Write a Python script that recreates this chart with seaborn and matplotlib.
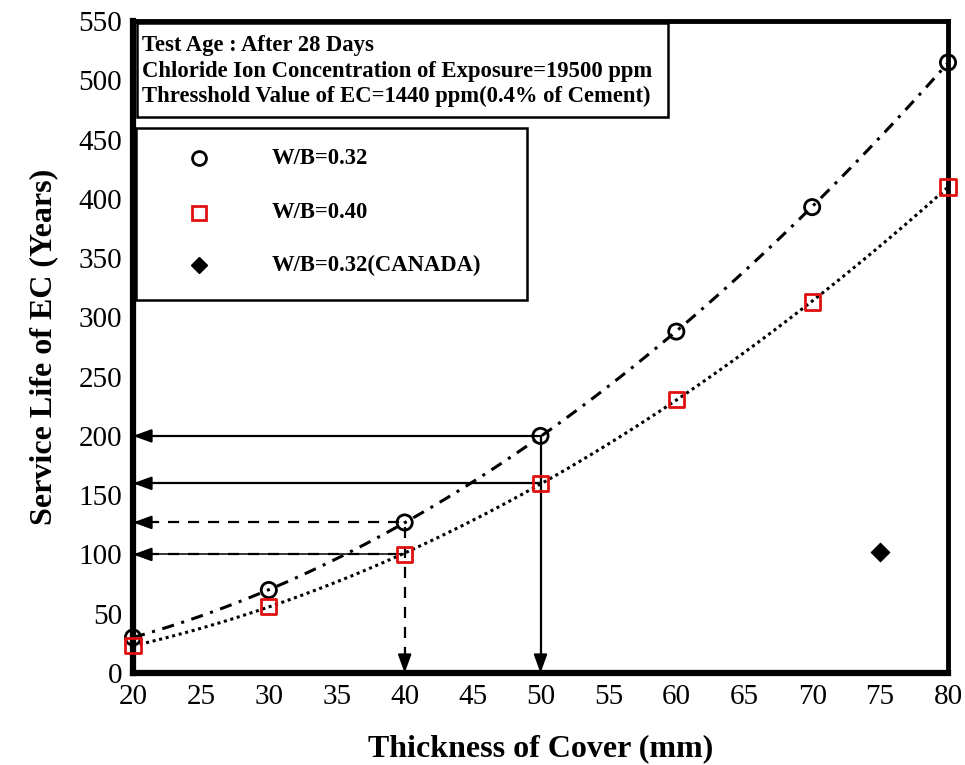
import numpy as np
import pandas as pd
import seaborn as sns
import matplotlib.pyplot as plt
from matplotlib.patches import Rectangle
from matplotlib.lines import Line2D

# Cover thickness (mm) and service life (years)
cover = [20, 30, 40, 50, 60, 70, 80]
life_032 = [30, 70, 127, 200, 288, 393, 515]
life_040 = [23, 56, 100, 160, 231, 313, 410]
canada_cover = [75]
canada_life = [102]

x_ticks = list(range(20, 85, 5))
y_ticks = list(range(0, 600, 50))

info_lines = [
    "Test Age : After 28 Days",
    "Chloride Ion Concentration of Exposure=19500 ppm",
    "Thresshold Value of EC=1440 ppm(0.4% of Cement)",
]
legend_labels = ["W/B=0.32", "W/B=0.40", "W/B=0.32(CANADA)"]

df = pd.DataFrame({"cover": cover, "w032": life_032, "w040": life_040})

sns.set_theme(style="white")
plt.rcParams["font.family"] = ["Liberation Serif", "DejaVu Serif"]
plt.rcParams["text.color"] = "black"
plt.rcParams["axes.labelcolor"] = "black"

fig = plt.figure(figsize=(9.65, 7.65), dpi=100)
ax = fig.add_axes([133 / 965, 1 - 673 / 765, (948 - 133) / 965, (673 - 21) / 765])

# Fitted trend curves
sns.regplot(data=df, x="cover", y="w032", order=2, ci=None, scatter=False, ax=ax,
            truncate=True,
            line_kws=dict(color="black", lw=2.2, linestyle=(0, (4, 2.5, 1, 2.5))))
sns.regplot(data=df, x="cover", y="w040", order=2, ci=None, scatter=False, ax=ax,
            truncate=True,
            line_kws=dict(color="black", lw=2.2, linestyle=(0, (1, 1.2))))

# Reading guides: a line plus a solid arrowhead at the axis end
head_kw = dict(arrowstyle="-|>,head_length=0.55,head_width=0.2", mutation_scale=20,
               color="black", lw=1.6, shrinkA=0, shrinkB=0)
HX = 1.1    # arrowhead length in x data units
HY = 12.5   # arrowhead length in y data units


def guide_h(x0, y, style):
    ax.plot([20 + HX, x0], [y, y], color="black", lw=1.6, linestyle=style)
    ax.annotate("", xy=(20, y), xytext=(20 + HX, y), arrowprops=head_kw)


def guide_v(x, y0, style):
    ax.plot([x, x], [HY, y0], color="black", lw=1.6, linestyle=style)
    ax.annotate("", xy=(x, 0), xytext=(x, HY), arrowprops=head_kw)


guide_h(cover[3], life_032[3], "-")
guide_h(cover[3], life_040[3], "-")
guide_v(cover[3], life_032[3], "-")
ax.plot([20 + HX, cover[2]], [life_040[2], life_040[2]], color="black", lw=1.1)
guide_h(cover[2], life_032[2], (0, (5, 4)))
guide_h(cover[2], life_040[2], (0, (5, 4)))
guide_v(cover[2], life_032[2], (0, (5, 4)))

# Measured points
sns.scatterplot(x=cover, y=life_032, marker="o", s=120, facecolor="none",
                edgecolor="black", linewidth=2, ax=ax, zorder=5, clip_on=False)
sns.scatterplot(x=cover, y=life_040, marker="s", s=120, facecolor="none",
                edgecolor="#e01010", linewidth=2, ax=ax, zorder=5, clip_on=False)
sns.scatterplot(x=canada_cover, y=canada_life, marker="D", s=90, color="black",
                edgecolor="black", ax=ax, zorder=5)

ax.set_xlim(20, 80)
ax.set_ylim(0, 550)
ax.set_xticks(x_ticks)
ax.set_yticks(y_ticks)
ax.tick_params(axis="both", direction="in", length=3, width=2, labelsize=21,
               pad=8, colors="black")
for side in ["left", "bottom"]:
    ax.spines[side].set_linewidth(4.5)
for side in ["top", "right"]:
    ax.spines[side].set_linewidth(3.5)
for s in ax.spines.values():
    s.set_color("black")
    s.set_visible(True)

ax.set_xlabel("Thickness of Cover (mm)", fontsize=23, fontweight="bold", labelpad=17)
ax.set_ylabel("Service Life of EC (Years)", fontsize=23, fontweight="bold", labelpad=14)

# Test condition box
ax.add_patch(Rectangle((137 / 965, 1 - 117 / 765), (668 - 137) / 965, (117 - 23) / 765,
                       transform=fig.transFigure, facecolor="white",
                       edgecolor="black", lw=1.8, zorder=6))
for i, t in enumerate(info_lines):
    fig.text(142 / 965, 1 - (46 + i * 25) / 765, t, fontsize=16.3, fontweight="bold",
             va="center", ha="left", zorder=7)

# Legend box
ax.add_patch(Rectangle((136 / 965, 1 - 300 / 765), (527 - 136) / 965, (300 - 128) / 765,
                       transform=fig.transFigure, facecolor="white",
                       edgecolor="black", lw=1.8, zorder=6))
handles = [
    Line2D([], [], marker="o", ls="none", mfc="none", mec="black", mew=2, ms=10),
    Line2D([], [], marker="s", ls="none", mfc="none", mec="#e01010", mew=2, ms=10),
    Line2D([], [], marker="D", ls="none", mfc="black", mec="black", ms=8),
]
rows = [158, 213, 265]
for h, lab, r in zip(handles, legend_labels, rows):
    yy = 1 - r / 765
    fig.add_artist(Line2D([199 / 965], [yy], marker=h.get_marker(), ls="none",
                          mfc=h.get_markerfacecolor(), mec=h.get_markeredgecolor(),
                          mew=h.get_markeredgewidth(), ms=h.get_markersize(),
                          transform=fig.transFigure, zorder=8))
    fig.text(272 / 965, yy, lab, fontsize=16.3, fontweight="bold", va="center",
             ha="left", zorder=8)

fig.savefig("out.png", dpi=100)
